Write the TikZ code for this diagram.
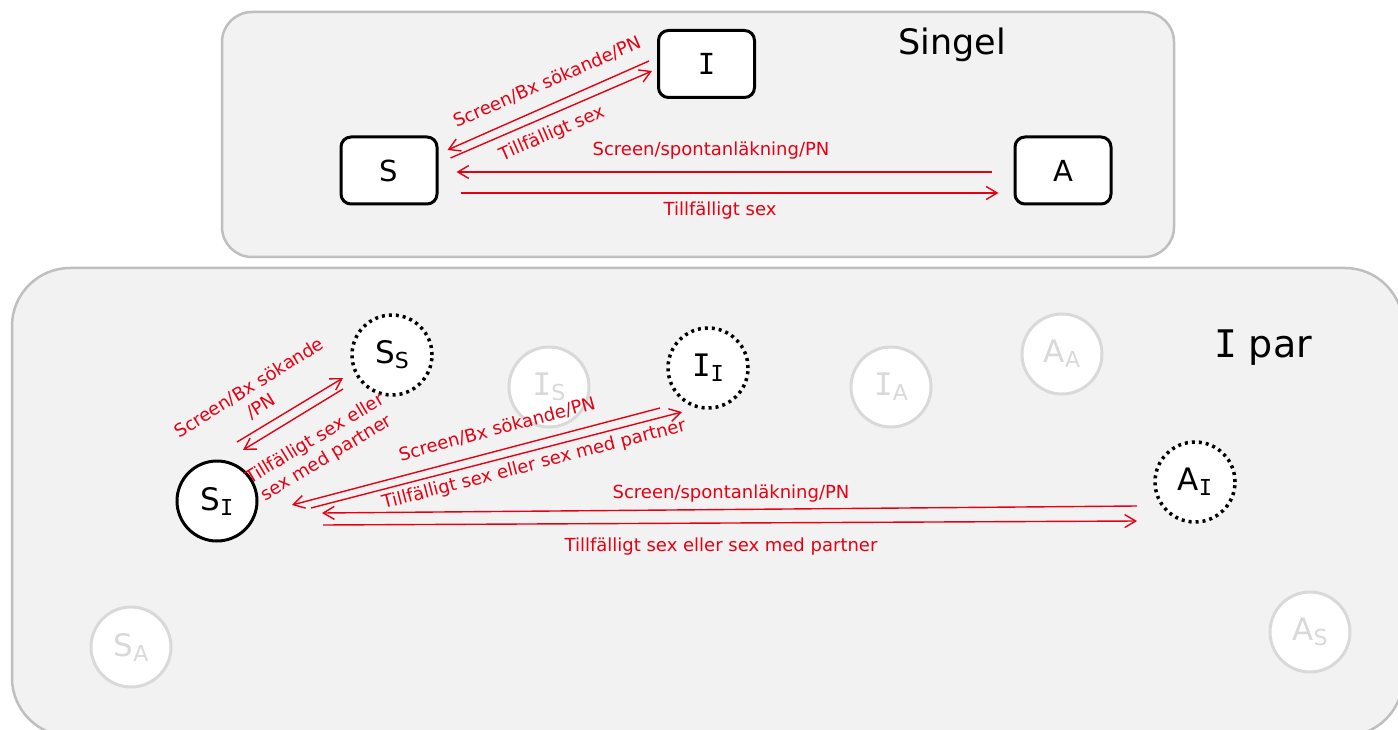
\documentclass[tikz,border=0pt]{standalone}
\usepackage{fontspec}
\setmainfont{DejaVu Sans}
\newfontfamily\serifI{DejaVu Sans Mono}
\usetikzlibrary{arrows.meta,calc}
\definecolor{panelfill}{RGB}{242,242,242}
\definecolor{panelline}{RGB}{191,191,191}
\definecolor{faded}{RGB}{217,217,217}
\definecolor{flow}{RGB}{230,0,18}
% capital I with serifs, and a state name with its subscript
\newcommand\capI{{\serifI I}}
\newcommand\lbl[2]{{\fontsize{31}{31}\selectfont #1}\raisebox{-5pt}{\fontsize{22}{22}\selectfont #2}}
\begin{document}
\begin{tikzpicture}[x=1pt,y=-1pt,
  panel/.style={fill=panelfill,draw=panelline,line width=2.5pt},
  state/.style={draw=black,fill=white,line width=3pt,rounded corners=10pt,
    minimum width=96pt,minimum height=67pt,inner sep=0pt,
    font=\fontsize{29}{29}\selectfont},
  pairstate/.style={circle,draw=black,fill=white,line width=3pt,
    minimum size=80pt,inner sep=0pt},
  dotstate/.style={pairstate,line width=3.5pt,dash pattern=on 3pt off 4pt},
  ghost/.style={pairstate,draw=faded,text=faded},
  flowline/.style={draw=flow,line width=1.4pt,-{Straight Barb[length=11pt,width=13pt]}},
  flowtext/.style={text=flow,inner sep=0pt,font=\fontsize{18}{22}\selectfont,align=center},
  title/.style={inner sep=0pt}]
\clip (0,0) rectangle (1398,730);
\fill[white] (0,0) rectangle (1398,730);

% panels
\draw[panel,rounded corners=30pt] (222,12) rectangle (1174,257);
\draw[panel,rounded corners=58pt] (12,268) rectangle (1403,736);

% single states
\node[state] (S) at (389,170.5) {S};
\node[state] (I) at (706.5,64) {\capI};
\node[state] (A) at (1063,170.5) {A};
\node[title,font=\fontsize{35}{35}\selectfont] (singel) at (952,45) {Singel};

% states in a couple
\node[ghost] (IS) at (549,387) {\lbl{\capI}{S}};
\node[ghost] (IA) at (891,387) {\lbl{\capI}{A}};
\node[ghost] (AA) at (1062,354) {\lbl{A}{A}};
\node[ghost] (SA) at (131,647) {\lbl{S}{A}};
\node[ghost] (AS) at (1310,632) {\lbl{A}{S}};
\node[pairstate] (SI) at (217,501) {\lbl{S}{\capI}};
\node[dotstate] (SS) at (392,355) {\lbl{S}{S}};
\node[dotstate] (II) at (708,368) {\lbl{\capI}{\capI}};
\node[dotstate] (AI) at (1195,482) {\lbl{A}{\capI}};
\node[title,font=\fontsize{38}{38}\selectfont] (ipar) at (1263,348) {\capI{} par};

% transitions while single
\draw[flowline] ($(I.west)+(-8,-3)$) -- ($(S.east)+(9,-20.5)$);
\draw[flowline] ($(S.east)+(12,-12.5)$) -- ($(I.west)+(-5,7)$);
\draw[flowline] ($(A.west)+(-22,1.5)$) -- ($(S.east)+(18,1.5)$);
\draw[flowline] ($(S.east)+(22,22.5)$) -- ($(A.west)+(-15,22.5)$);

\node[flowtext,rotate=23.5] (l1) at (547,82) {Screen/Bx sökande/PN};
\node[flowtext,rotate=23.5] (l2) at (552,134) {Tillfälligt sex};
\node[flowtext] (l3) at (711,151) {Screen/spontanläkning/PN};
\node[flowtext] (l4) at (720,211) {Tillfälligt sex};

% transitions in a couple
\draw[flowline] ($(SI)+(20,-59)$) -- ($(SS)+(-49,23)$);
\draw[flowline] ($(SS)+(-49,34)$) -- ($(SI)+(26,-51)$);
\draw[flowline] ($(II)+(-48,40)$) -- ($(SI)+(75,4)$);
\draw[flowline] ($(SI)+(94,7)$) -- ($(II)+(-26,44)$);
\draw[flowline] ($(AI)+(-58,24)$) -- ($(SI)+(105,12)$);
\draw[flowline] ($(SI)+(106,24)$) -- ($(AI)+(-58,39)$);

\node[flowtext,rotate=32] (l5) at (255,397) {Screen/Bx sökande\\/PN};
\node[flowtext,rotate=31] (l6) at (321,449) {Tillfälligt sex eller\\sex med partner};
\node[flowtext,rotate=15] (l7) at (497,429) {Screen/Bx sökande/PN};
\node[flowtext,rotate=14.5] (l8) at (534,465) {Tillfälligt sex eller sex med partner};
\node[flowtext] (l9) at (731,494) {Screen/spontanläkning/PN};
\node[flowtext] (l10) at (721,547) {Tillfälligt sex eller sex med partner};
\end{tikzpicture}
\end{document}
